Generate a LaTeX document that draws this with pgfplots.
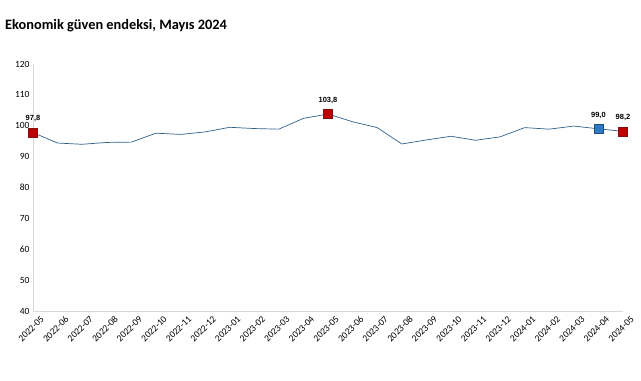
\documentclass[border=0pt]{standalone}
\usepackage{pgfplots}
\pgfplotsset{compat=1.18}
\usepackage{fontspec}
\setmainfont{Carlito}
\newfontfamily\labfont{Liberation Sans}
\definecolor{linec}{HTML}{2E5F8A}
\definecolor{redm}{HTML}{C00000}
\definecolor{redb}{HTML}{7F1010}
\definecolor{bluem}{HTML}{2E7BC4}
\definecolor{blueb}{HTML}{1F4E79}
\definecolor{axc}{HTML}{D9D9D9}
\begin{document}
\begin{tikzpicture}[x=1bp,y=1bp]
\path[use as bounding box] (0,0) rectangle (641,-380);
\node[anchor=base west,font=\bfseries\fontsize{14.4}{16}\selectfont,inner sep=0] at (5,-29) {Ekonomik güven endeksi, Mayıs 2024};
\begin{axis}[
  at={(33bp,-311bp)}, anchor=south west,
  scale only axis, width=590bp, height=247bp,
  xmin=0, xmax=24, ymin=40, ymax=120,
  ytick={40,50,...,120},
  xtick={0,...,24},
  xticklabels={2022-05,2022-06,2022-07,2022-08,2022-09,2022-10,2022-11,2022-12,2023-01,2023-02,2023-03,2023-04,2023-05,2023-06,2023-07,2023-08,2023-09,2023-10,2023-11,2023-12,2024-01,2024-02,2024-03,2024-04,2024-05},
  x tick label style={rotate=45, anchor=north east, inner sep=1pt, xshift=3bp, yshift=-7bp, font=\fontsize{9.5}{10}\selectfont},
  y tick label style={font=\fontsize{9.5}{10}\selectfont},
  /pgf/number format/assume math mode=true,
  axis x line*=bottom, axis y line*=left,
  axis line style={axc, line width=0.8pt, -},
  major tick length=0pt,
  clip=false,
]
\addplot[linec, line width=0.7pt, mark=none] coordinates {
(0,97.8) (1,94.4) (2,94.0) (3,94.6) (4,94.7) (5,97.6) (6,97.2) (7,98.0) (8,99.5) (9,99.1) (10,98.9) (11,102.4) (12,103.8)
(13,101.3) (14,99.4) (15,94.1) (16,95.4) (17,96.6) (18,95.3) (19,96.4) (20,99.4) (21,98.9) (22,99.9) (23,99.0) (24,98.2)
};
\addplot[only marks, mark=square*, mark size=4.5bp, mark options={fill=redm, draw=redb, line width=0.6pt},
  nodes near coords, point meta=explicit symbolic,
  every node near coord/.append style={font=\labfont\bfseries\fontsize{7.5}{8}\selectfont, yshift=7bp, black}]
 coordinates {(0,97.8) [97,8] (12,103.8) [103,8] (24,98.2) [98,2]};
\addplot[only marks, mark=square*, mark size=4.5bp, mark options={fill=bluem, draw=blueb, line width=0.6pt},
  nodes near coords, point meta=explicit symbolic,
  every node near coord/.append style={font=\labfont\bfseries\fontsize{7.5}{8}\selectfont, yshift=7bp, black}]
 coordinates {(23,99.0) [99,0]};
\end{axis}
\end{tikzpicture}
\end{document}
